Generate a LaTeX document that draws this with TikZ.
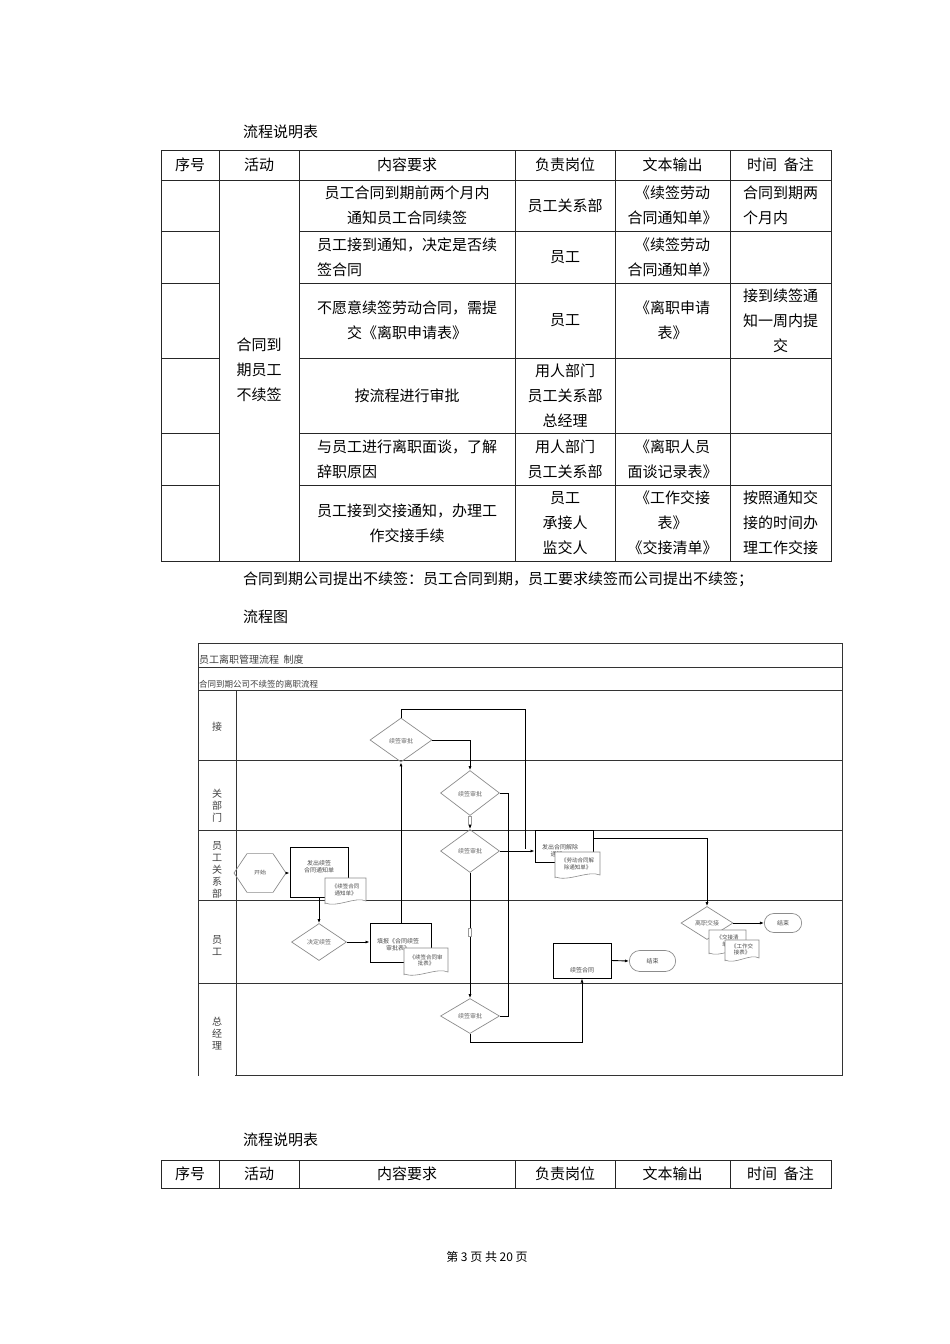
\documentclass[tikz,border=0pt]{standalone}
\usepackage{fontspec}
\setmainfont{Noto Sans CJK SC}
\usetikzlibrary{shapes.geometric,arrows.meta}
\tikzset{x=1pt,y=-1pt,
 cell/.style={align=center,font=\fontsize{15}{25}\selectfont,inner sep=0},
 tl/.style={draw=black!85,line width=0.8pt},
 fl/.style={draw=black!80,line width=1pt},
 dia/.style={diamond,draw=black!45,line width=0.7pt,inner sep=0,font=\fontsize{6}{7}\selectfont,text=black!60},
 box/.style={rectangle,draw=black,line width=1pt,inner sep=1pt,font=\fontsize{6}{7}\selectfont,align=center,text=black!70},
 endn/.style={rounded rectangle,draw=black!45,line width=0.7pt,font=\fontsize{6}{7}\selectfont,text=black!70},
 conn/.style={draw=black,line width=0.9pt},
 arr/.style={conn,-{Latex[length=4pt,width=3pt]}},
 lane/.style={font=\fontsize{10}{12}\selectfont,align=center,text=black!75},
 doct/.style={font=\fontsize{5.5}{6.5}\selectfont,align=center,text=black!70,inner sep=0}
}
\usetikzlibrary{shapes.misc}
\newcommand\docshape[6]{%
 \fill[white] (#2,#3) rectangle (#2+#4,#3+#5);
 \draw[black!45,line width=0.6pt] (#2,#3+#5) -- (#2,#3) -- (#2+#4,#3) -- (#2+#4,#3+#5-3)
   .. controls (#2+0.75*#4,#3+#5-8) and (#2+0.3*#4,#3+#5+4) .. (#2,#3+#5-1);
 \node[doct] (#1) at (#2+#4/2,#3+#5/2-1) {#6};}
\begin{document}
\begin{tikzpicture}
\useasboundingbox[fill=white] (0,0) rectangle (950,1344);
% ---- table 1
\node[cell,anchor=west] (t1) at (243,132) {流程说明表};
\draw[tl] (161,150) rectangle (831,561);
\draw[tl] (161,180) -- (831,180);
\foreach \y in {231,283,358,433,485}{\draw[tl] (161,\y)--(219,\y); \draw[tl] (299,\y)--(831,\y);}
\foreach \x in {219,299,515,615,730}{\draw[tl] (\x,150)--(\x,561);}
\node[cell] (h1) at (190,165) {序号};
\node[cell] (h2) at (259,165) {活动};
\node[cell] (h3) at (407,165) {内容要求};
\node[cell] (h4) at (565,165) {负责岗位};
\node[cell] (h5) at (672.5,165) {文本输出};
\node[cell] (h6) at (780.5,165) {时间\ \ 备注};
\node[cell] (act) at (259,370) {合同到\\期员工\\不续签};
\node[cell] (c11) at (407,205.5) {员工合同到期前两个月内\\通知员工合同续签};
\node[cell] (c12) at (565,205.5) {员工关系部};
\node[cell] (c13) at (672.5,205.5) {《续签劳动\\合同通知单》};
\node[cell,align=left] (c14) at (780.5,205.5) {合同到期两\\个月内};
\node[cell,align=left] (c21) at (407,257) {员工接到通知，决定是否续\\签合同};
\node[cell] (c22) at (565,257) {员工};
\node[cell] (c23) at (672.5,257) {《续签劳动\\合同通知单》};
\node[cell] (c31) at (407,320.5) {不愿意续签劳动合同，需提\\交《离职申请表》};
\node[cell] (c32) at (565,320.5) {员工};
\node[cell] (c33) at (672.5,320.5) {《离职申请\\表》};
\node[cell] (c34) at (780.5,320.5) {接到续签通\\知一周内提\\交};
\node[cell] (c41) at (407,395.5) {按流程进行审批};
\node[cell] (c42) at (565,395.5) {用人部门\\员工关系部\\总经理};
\node[cell,align=left] (c51) at (407,459) {与员工进行离职面谈，了解\\辞职原因};
\node[cell] (c52) at (565,459) {用人部门\\员工关系部};
\node[cell] (c53) at (672.5,459) {《离职人员\\面谈记录表》};
\node[cell] (c61) at (407,523) {员工接到交接通知，办理工\\作交接手续};
\node[cell] (c62) at (565,523) {员工\\承接人\\监交人};
\node[cell] (c63) at (672.5,523) {《工作交接\\表》\\《交接清单》};
\node[cell] (c64) at (780.5,523) {按照通知交\\接的时间办\\理工作交接};
\node[cell,anchor=west] (note) at (243,579) {合同到期公司提出不续签：员工合同到期，员工要求续签而公司提出不续签；};
\node[cell,anchor=west] (lct) at (243,617) {流程图};
% ---- flowchart frame
\draw[fl] (198,643) rectangle (842,1075);
\draw[fl] (198,667)--(842,667); \draw[fl] (198,690)--(842,690);
\foreach \y in {760,830,900,983}{\draw[fl] (198,\y)--(842,\y);}
\draw[fl] (236,690)--(236,1075);
\draw[white,line width=3pt] (199,1075)--(235,1075);
\node[lane,anchor=west,inner sep=1pt] (ft) at (198,660) {员工离职管理流程\ \ 制度};
\node[lane,anchor=west,inner sep=1pt,font=\fontsize{8.5}{10}\selectfont] (fs) at (198,684) {合同到期公司不续签的离职流程};
\node[lane] (l1) at (217,727) {接};
\node[lane] (l2) at (217,806) {关\\部\\门};
\node[lane] (l3) at (217,870) {员\\工\\关\\系\\部};
\node[lane] (l4) at (217,946) {员\\工};
\node[lane] (l5) at (217,1034) {总\\经\\理};
% ---- nodes
\node[dia,minimum width=62pt,minimum height=44pt] (d1) at (401,740) {\raisebox{-8pt}{续签审批}};
\node[dia,minimum width=59pt,minimum height=45pt] (d2) at (470,793) {\raisebox{-8pt}{续签审批}};
\node[dia,minimum width=59pt,minimum height=43pt] (d3) at (470,851) {\raisebox{-6pt}{续签审批}};
\node[dia,minimum width=59pt,minimum height=35pt] (d5) at (470,1016) {\raisebox{-6pt}{续签审批}};
\node[dia,minimum width=55pt,minimum height=37pt] (d4) at (319,942) {决定\\续签};
\node[dia,minimum width=52pt,minimum height=33pt] (d6) at (707,923) {\raisebox{-5pt}{离职交接}};
\node[regular polygon,regular polygon sides=6,draw=black!45,line width=0.7pt,minimum size=52pt,inner sep=0,font=\fontsize{6}{7}\selectfont,text=black!70,yscale=0.86] (st) at (260,873) {开始};
\node[box,minimum width=58pt,minimum height=50pt] (b1) at (319,872) {};
\node[doct,font=\fontsize{6}{7}\selectfont] (b1t) at (319,867) {发出续签\\合同通知单};
\docshape{dc1}{325}{878}{41}{26}{《续签合同\\通知单》}
\node[box,minimum width=61pt,minimum height=39pt] (b2) at (400.5,942.5) {};
\node[doct,font=\fontsize{6}{7}\selectfont] (b2t) at (398,945) {填报《合同续签\\审批表》};
\docshape{dc2}{404}{948}{44}{27}{《续签合同审\\批表》};
\node[box,minimum width=58pt,minimum height=35pt] (b3) at (582,960.5) {};
\node[doct,font=\fontsize{6}{7}\selectfont] (b3t) at (582,970) {续签合同};
\node[endn,minimum width=53pt,minimum height=21pt] (e1) at (652.5,961) {\raisebox{-5pt}{结束}};
\node[box,minimum width=58pt,minimum height=32pt] (b4) at (564,846) {};
\node[doct,font=\fontsize{6}{7}\selectfont,anchor=west] (b4t) at (535,851) {\hspace{7pt}发出合同解除\\通知\hspace{30pt}};
\docshape{dc4}{555}{852}{45}{26}{《劳动合同解\\除通知单》}
\node[endn,minimum width=44pt,minimum height=19pt] (e2) at (783,923) {\raisebox{-4pt}{结束}};
\docshape{dc6a}{709}{930}{37}{24}{《交接清\\单》}
\docshape{dc6b}{725}{940}{34}{21}{《工作交\\接表》}
% ---- connectors
\coordinate (p1) at (401,709); \coordinate (p2) at (525,709); \coordinate (p3) at (525,849);
\draw[conn] (d1.north) -- (p1) -- (p2) -- (p3);
\draw[arr] (d3.east) -- (b4.west|-d3.east);
\draw[arr] (st.east) -- (b1.west|-st.east);
\draw[arr] (b1.south-|d4.north) -- (d4.north);
\draw[arr] (d4.east) -- (b2.west|-d4.east);
\draw[arr] (b2.north-|d1.south) -- (d1.south);
\coordinate (q1) at (470,740);
\draw[arr] (d1.east) -- (q1) -- (d2.north);
\draw[arr] (d2.south) -- (d3.north);
\node[draw=black!40,fill=white,minimum width=3pt,minimum height=8pt,inner sep=0] (g1) at (470,820) {};
\draw[arr] (d3.south) -- (d5.north);
\node[draw=black!40,fill=white,minimum width=3pt,minimum height=8pt,inner sep=0] (g2) at (470,932) {};
\coordinate (r1) at (508,793); \coordinate (r2) at (508,1016);
\draw[conn] (d2.east) -- (r1) -- (r2) -- (d5.east);
\coordinate (s1) at (470,1042); \coordinate (s2) at (582,1042);
\draw[arr] (d5.south) -- (s1) -- (s2) -- (b3.south);
\draw[arr] (b3.east) -- (e1.west);
\coordinate (u1) at (707,838);
\draw[arr] (b4.east|-u1) -- (u1) -- (d6.north);
\draw[arr] (d6.east) -- (e2.west);
% ---- table 2
\node[cell,anchor=west] (t2) at (243,1140) {流程说明表};
\draw[tl] (161,1160) rectangle (831,1188);
\foreach \x in {219,299,515,615,730}{\draw[tl] (\x,1160)--(\x,1188);}
\node[cell] (k1) at (190,1174) {序号};
\node[cell] (k2) at (259,1174) {活动};
\node[cell] (k3) at (407,1174) {内容要求};
\node[cell] (k4) at (565,1174) {负责岗位};
\node[cell] (k5) at (672.5,1174) {文本输出};
\node[cell] (k6) at (780.5,1174) {时间\ \ 备注};
\node[cell,font=\fontsize{12}{14}\selectfont] (foot) at (487,1257) {第\ 3\ 页\ 共\ 20\ 页};
\end{tikzpicture}
\end{document}
